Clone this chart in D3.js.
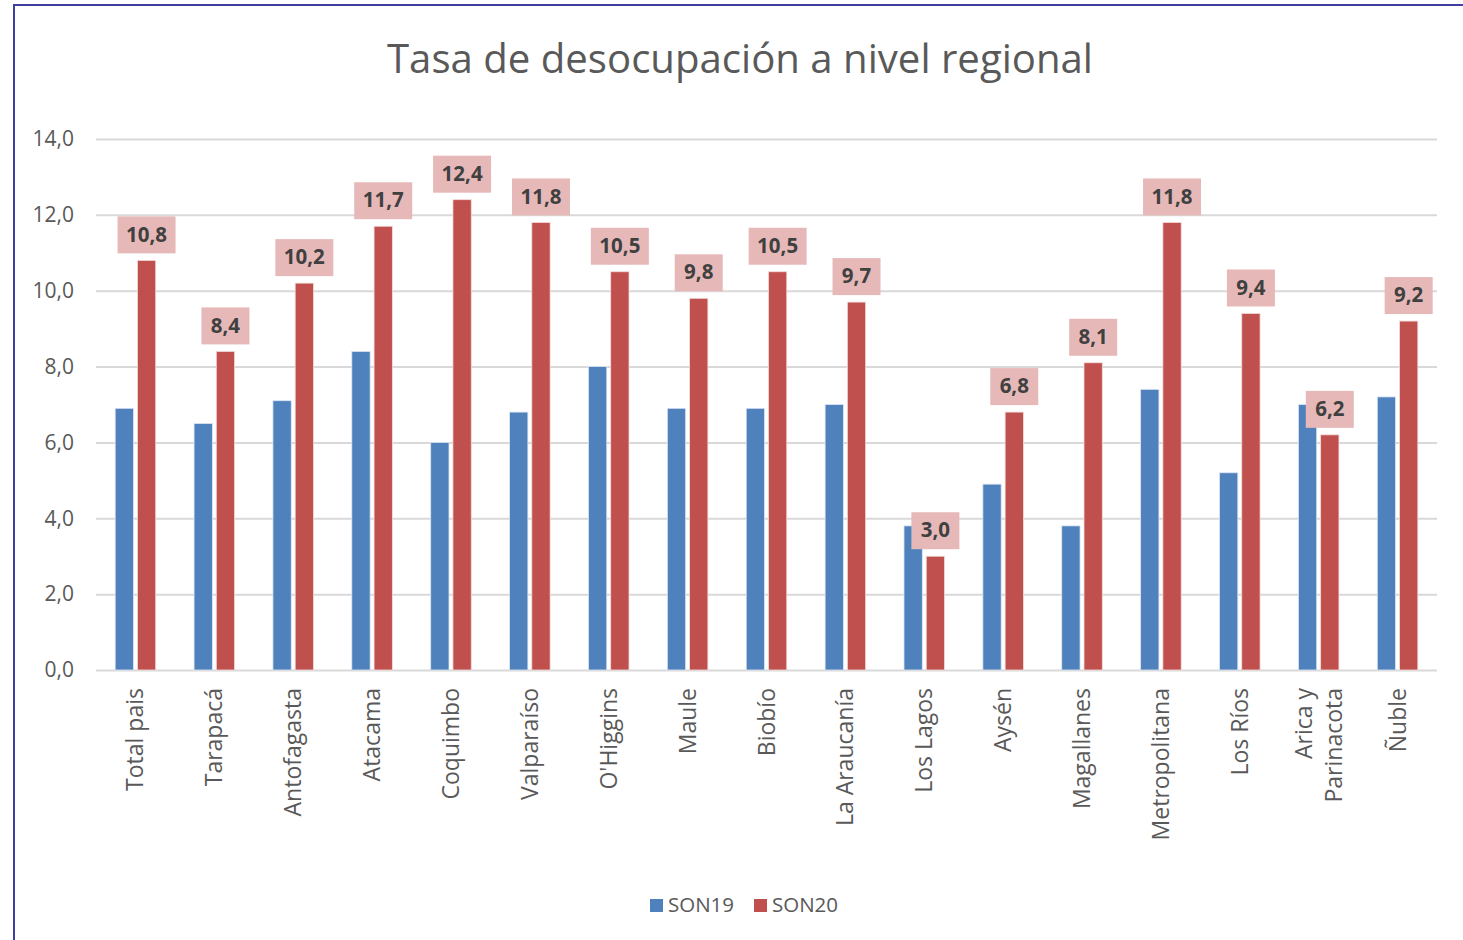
<!DOCTYPE html>
<html>
<head>
<meta charset="utf-8">
<script src="https://cdn.jsdelivr.net/npm/d3@7"></script>
<style>
  body { margin: 0; background: #fff; }
  svg { display: block; }
</style>
</head>
<body>
<svg id="chart" width="1463" height="940"></svg>
<script>
const regions = ['Total pais', 'Tarapacá', 'Antofagasta', 'Atacama', 'Coquimbo', 'Valparaíso',
  "O'Higgins", 'Maule', 'Biobío', 'La Araucanía', 'Los Lagos', 'Aysén', 'Magallanes',
  'Metropolitana', 'Los Ríos', 'Arica y Parinacota', 'Ñuble'];
const son19 = [6.9, 6.5, 7.1, 8.4, 6.0, 6.8, 8.0, 6.9, 6.9, 7.0, 3.8, 4.9, 3.8, 7.4, 5.2, 7.0, 7.2];
const son20 = [10.8, 8.4, 10.2, 11.7, 12.4, 11.8, 10.5, 9.8, 10.5, 9.7, 3.0, 6.8, 8.1, 11.8, 9.4, 6.2, 9.2];
const seriesNames = ['SON19', 'SON20'];
const yTicks = [0, 2, 4, 6, 8, 10, 12, 14];

const colors = {SON19: '#4f81bd', SON20: '#c0504d'};
const fontFam = '"Open Sans", "Noto Sans", sans-serif';
const textColor = '#595959';
const fmt = v => d3.format('.1f')(v).replace('.', ',');

const svg = d3.select('#chart');

// outer frame (only top and left edges show)
svg.append('line').attr('x1', 13).attr('x2', 1463).attr('y1', 5).attr('y2', 5)
  .attr('stroke', '#3f3f9f').attr('stroke-width', 2);
svg.append('line').attr('x1', 14).attr('x2', 14).attr('y1', 5).attr('y2', 940)
  .attr('stroke', '#3f3f9f').attr('stroke-width', 2);

const plot = {left: 96, right: 1437, top: 139, bottom: 670};

const x = d3.scaleBand().domain(regions).range([plot.left, plot.right]).padding(0);
const y = d3.scaleLinear().domain([0, 14]).range([plot.bottom, plot.top]);

const bw = x.bandwidth();
const barW = bw * 0.232;
const gap = bw * 0.05;

// title
svg.append('text')
  .attr('x', 740).attr('y', 73)
  .attr('text-anchor', 'middle')
  .attr('font-family', fontFam).attr('font-size', 40)
  .attr('fill', textColor)
  .attr('textLength', 706).attr('lengthAdjust', 'spacingAndGlyphs')
  .text('Tasa de desocupación a nivel regional');

// grid + y axis
const yAxis = svg.append('g')
  .attr('transform', `translate(${plot.left},0)`)
  .call(d3.axisLeft(y).tickValues(yTicks).tickFormat(fmt)
    .tickSize(-(plot.right - plot.left)).tickPadding(22));
yAxis.select('.domain').remove();
yAxis.selectAll('.tick line').attr('stroke', '#d9d9d9').attr('stroke-width', 2);
yAxis.selectAll('.tick text')
  .attr('font-family', fontFam).attr('font-size', 21).attr('fill', textColor);

// bars
const groups = svg.append('g').selectAll('g')
  .data(regions)
  .join('g')
  .attr('transform', d => `translate(${x(d) + bw / 2},0)`);

groups.append('rect')
  .attr('x', -gap / 2 - barW)
  .attr('y', (d, i) => y(son19[i]))
  .attr('width', barW)
  .attr('height', (d, i) => y(0) - y(son19[i]))
  .attr('fill', colors.SON19)
  .attr('stroke', '#dce6f2').attr('stroke-width', 0.8);

groups.append('rect')
  .attr('x', gap / 2)
  .attr('y', (d, i) => y(son20[i]))
  .attr('width', barW)
  .attr('height', (d, i) => y(0) - y(son20[i]))
  .attr('fill', colors.SON20)
  .attr('stroke', '#f2dcdb').attr('stroke-width', 0.8);

// data labels for SON20
const labels = groups.append('g')
  .attr('transform', (d, i) => `translate(${gap / 2 + barW / 2},${y(son20[i]) - 26})`);
labels.append('rect')
  .attr('x', (d, i) => son20[i] >= 10 ? -29 : -24)
  .attr('y', -18)
  .attr('width', (d, i) => son20[i] >= 10 ? 58 : 48)
  .attr('height', 37)
  .attr('fill', '#e6b9b8');
labels.append('text')
  .attr('text-anchor', 'middle')
  .attr('dy', '0.35em')
  .attr('font-family', fontFam).attr('font-size', 20.5).attr('font-weight', 'bold')
  .attr('fill', '#404040')
  .text((d, i) => fmt(son20[i]));

// x labels (rotated)
const xl = groups.append('text')
  .attr('transform', 'translate(0,688) rotate(-90)')
  .attr('text-anchor', 'end')
  .attr('font-family', fontFam).attr('font-size', 23)
  .attr('fill', textColor);
xl.each(function (d) {
  const t = d3.select(this);
  const lines = d === 'Arica y Parinacota' ? ['Arica y', 'Parinacota'] : [d];
  const off = (lines.length - 1) * 15;
  lines.forEach((ln, k) => {
    t.append('tspan').attr('x', 0).attr('y', -off + k * 30 + 8).text(ln);
  });
});

// legend
const legend = svg.append('g').attr('transform', 'translate(650,905)');
seriesNames.forEach((s, i) => {
  const g = legend.append('g').attr('transform', `translate(${i * 104},0)`);
  g.append('rect').attr('x', 0).attr('y', -6).attr('width', 13).attr('height', 13).attr('fill', colors[s]);
  g.append('text').attr('x', 18).attr('y', 0).attr('dy', '0.35em')
    .attr('font-family', fontFam).attr('font-size', 20.5).attr('fill', textColor)
    .text(s);
});
</script>
</body>
</html>
